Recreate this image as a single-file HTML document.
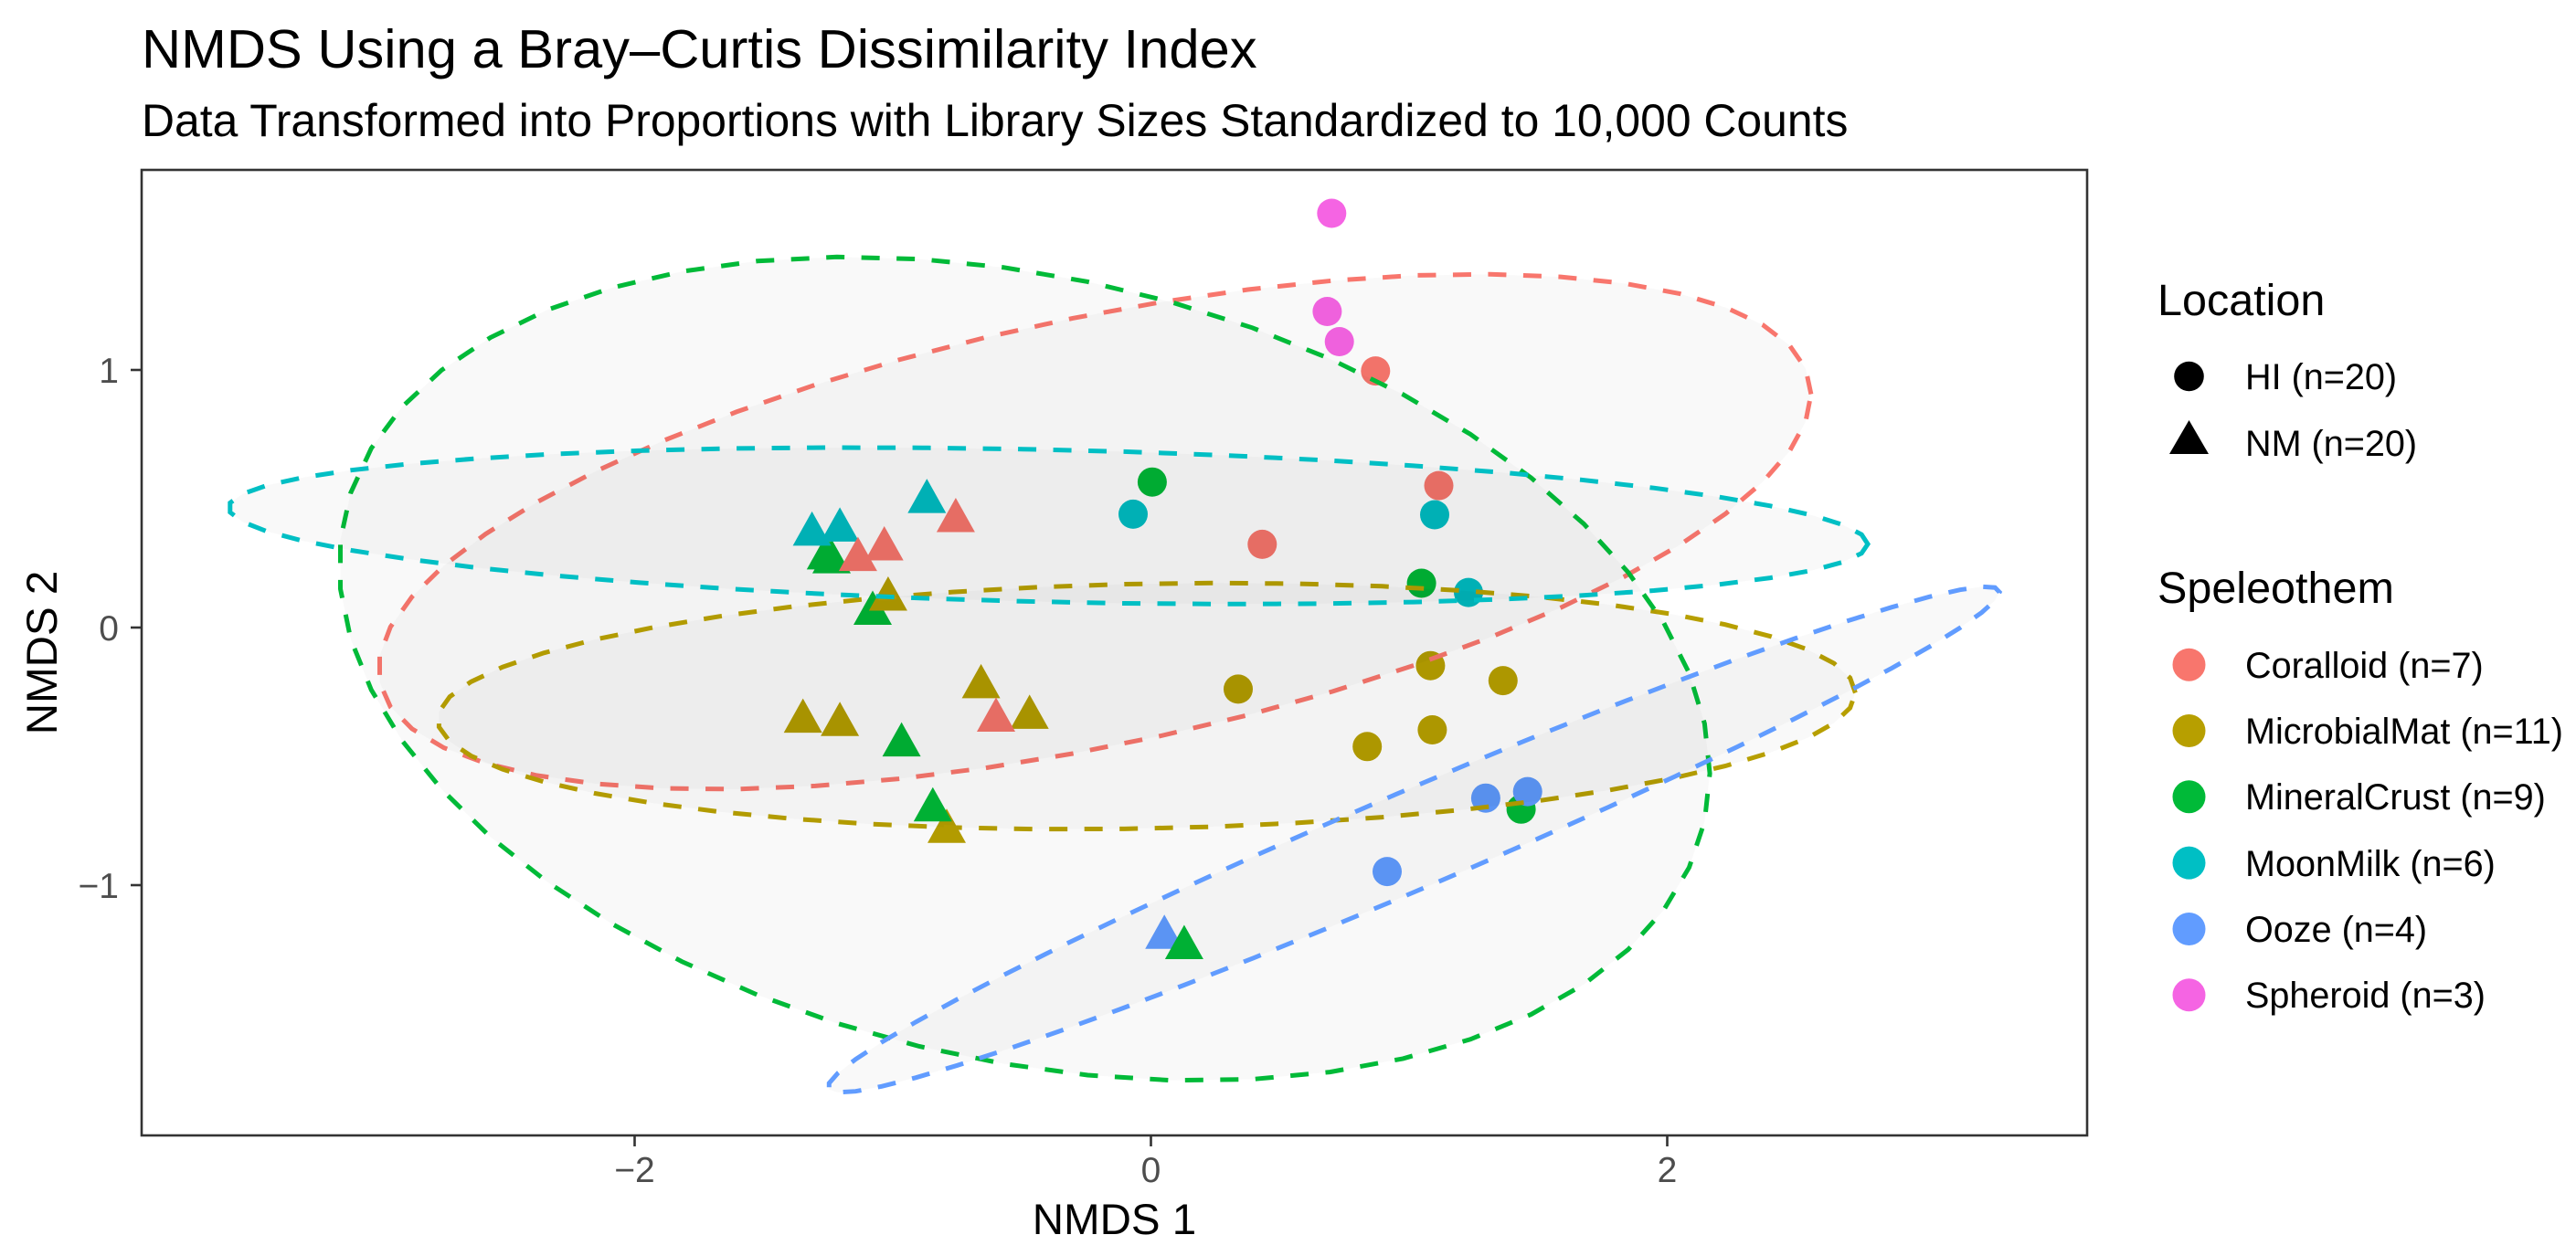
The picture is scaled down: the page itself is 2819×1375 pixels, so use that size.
<!DOCTYPE html>
<html lang="en">
<head>
<meta charset="utf-8">
<title>NMDS Using a Bray–Curtis Dissimilarity Index</title>
<style>
  html, body { margin: 0; padding: 0; background: #fff; }
  svg { display: block; }
  text { font-family: "Liberation Sans", Arial, sans-serif; }
  .tick-label { font-size: 39px; fill: #4d4d4d; }
  .legend-label { font-size: 39.6px; fill: #000; }
  .legend-title { font-size: 48.5px; fill: #000; }
  .axis-title { font-size: 47.5px; fill: #000; }
</style>
</head>
<body>
<svg id="chart" xmlns="http://www.w3.org/2000/svg" width="2819" height="1375" viewBox="0 0 2819 1375">
  <rect x="0" y="0" width="2819" height="1375" fill="#ffffff"/>
  <text x="155" y="74" font-size="59.7" fill="#000">NMDS Using a Bray–Curtis Dissimilarity Index</text>
  <text x="155" y="149" font-size="49.85" fill="#000">Data Transformed into Proportions with Library Sizes Standardized to 10,000 Counts</text>

  <g id="points"></g>
  <g id="ellipses"></g>
  <rect x="155" y="186" width="2129" height="1057" fill="none" stroke="#333333" stroke-width="2.6"/>
  <g id="axes"></g>

  <text class="axis-title" x="1219.5" y="1351" text-anchor="middle">NMDS 1</text>
  <text class="axis-title" transform="translate(62,714.5) rotate(-90)" text-anchor="middle">NMDS 2</text>

  <g>
    <text class="legend-title" x="2361" y="345">Location</text>
    <g>
      <circle cx="2395.5" cy="412" r="16.3" fill="#000"/>
      <text class="legend-label" x="2457" y="426">HI (n=20)</text>
    </g>
    <g>
      <polygon points="2395.5,460 2417,497 2374,497" fill="#000"/>
      <text class="legend-label" x="2457" y="499">NM (n=20)</text>
    </g>
  </g>

  <g>
    <text class="legend-title" x="2361" y="660">Speleothem</text>
    <g>
      <circle cx="2395.5" cy="727.7" r="18" fill="#F8766D"/>
      <text class="legend-label" x="2457" y="742">Coralloid (n=7)</text>
    </g>
    <g>
      <circle cx="2395.5" cy="800" r="18" fill="#B79F00"/>
      <text class="legend-label" x="2457" y="814">MicrobialMat (n=11)</text>
    </g>
    <g>
      <circle cx="2395.5" cy="872.3" r="18" fill="#00BA38"/>
      <text class="legend-label" x="2457" y="886">MineralCrust (n=9)</text>
    </g>
    <g>
      <circle cx="2395.5" cy="944.6" r="18" fill="#00BFC4"/>
      <text class="legend-label" x="2457" y="959">MoonMilk (n=6)</text>
    </g>
    <g>
      <circle cx="2395.5" cy="1017" r="18" fill="#619CFF"/>
      <text class="legend-label" x="2457" y="1031">Ooze (n=4)</text>
    </g>
    <g>
      <circle cx="2395.5" cy="1089.3" r="18" fill="#F564E3"/>
      <text class="legend-label" x="2457" y="1103">Spheroid (n=3)</text>
    </g>
  </g>
</svg>

<script>
// ---- data ----
const xTicks = [-2, 0, 2];
const yTicks = [-1, 0, 1];

const speleothemNames = ['Coralloid', 'MicrobialMat', 'MineralCrust', 'MoonMilk', 'Ooze', 'Spheroid'];

const pointLocation = [
  'HI','HI','HI','HI','HI','HI','HI','HI','HI','HI',
  'HI','HI','HI','HI','HI','HI','HI','HI','HI','HI',
  'NM','NM','NM','NM','NM','NM','NM','NM','NM','NM',
  'NM','NM','NM','NM','NM','NM','NM','NM','NM','NM'
];
const pointSpeleothem = [
  'MineralCrust','Ooze','Ooze','Ooze','Coralloid','Coralloid','Coralloid','MoonMilk','MoonMilk','MoonMilk',
  'MineralCrust','MineralCrust','MicrobialMat','MicrobialMat','MicrobialMat','MicrobialMat','MicrobialMat','Spheroid','Spheroid','Spheroid',
  'MicrobialMat','MicrobialMat','MicrobialMat','MicrobialMat','MicrobialMat','MineralCrust','MineralCrust','MineralCrust','MineralCrust','MineralCrust',
  'MicrobialMat','MoonMilk','MoonMilk','MoonMilk','Coralloid','Coralloid','Coralloid','Coralloid','Ooze','MineralCrust'
];
const nmds1 = [
  1.434, 1.297, 1.459, 0.915, 0.870, 1.115, 0.431, 1.099, -0.069, 1.230,
  0.005, 1.048, 0.338, 1.083, 1.364, 1.090, 0.838, 0.700, 0.683, 0.730,
  -0.791, -1.348, -1.205, -0.658, -0.470, -1.259, -1.237, -1.078, -0.966, -0.845,
  -1.018, -1.313, -1.205, -0.868, -0.756, -1.033, -1.135, -0.600, 0.052, 0.129
];
const nmds2 = [
  -0.705, -0.662, -0.637, -0.947, 0.996, 0.551, 0.323, 0.438, 0.440, 0.136,
  0.565, 0.172, -0.239, -0.148, -0.206, -0.397, -0.462, 1.608, 1.227, 1.110,
  -0.792, -0.364, -0.377, -0.230, -0.349, 0.270, 0.255, 0.055, -0.456, -0.708,
  0.110, 0.362, 0.378, 0.489, 0.415, 0.305, 0.264, -0.360, -1.203, -1.243
];

// ellipse parameters in NMDS units, one entry per speleothem with an ellipse
const ellipseGroups  = ['Coralloid', 'MicrobialMat', 'MineralCrust', 'MoonMilk', 'Ooze'];
const ellipseCenterX = [-0.218, -0.017, -0.490, -0.398, 1.018];
const ellipseCenterY = [0.372, -0.305, -0.160, 0.395, -0.823];
const ellipseSpreadX = [2.775, 2.746, 2.655, 3.175, 2.269];
const ellipseSpreadY = [1.000, 0.478, 1.599, 0.304, 0.982];
const ellipseCorr    = [0.534, 0.108, -0.254, -0.233, 0.978];

// ---- scales and styles ----
const NS = 'http://www.w3.org/2000/svg';
const palette = { Coralloid: '#F8766D', MicrobialMat: '#B79F00', MineralCrust: '#00BA38', MoonMilk: '#00BFC4', Ooze: '#619CFF', Spheroid: '#F564E3' };
const scaleX = v => 1259.5 + 282.5 * v;
const scaleY = v => 687 - 282 * v;
const SEGMENTS = 51;
const slug = s => s.toLowerCase();
const fmt = v => (v < 0 ? '\u2212' + Math.abs(v) : String(v));

// ---- points ----
const pointsLayer = document.getElementById('points');
nmds1.forEach((v, i) => {
  const px = scaleX(v);
  const py = scaleY(nmds2[i]);
  const color = palette[pointSpeleothem[i]];
  let el;
  if (pointLocation[i] === 'HI') {
    el = document.createElementNS(NS, 'circle');
    el.setAttribute('cx', px.toFixed(1));
    el.setAttribute('cy', py.toFixed(1));
    el.setAttribute('r', '16');
  } else {
    el = document.createElementNS(NS, 'polygon');
    el.setAttribute('points', [
      [px, py - 25], [px + 21, py + 12.5], [px - 21, py + 12.5]
    ].map(p => p[0].toFixed(1) + ',' + p[1].toFixed(1)).join(' '));
  }
  el.setAttribute('fill', color);
  
  
  pointsLayer.appendChild(el);
});

// ---- ellipses ----
const ellipsesLayer = document.getElementById('ellipses');
ellipseGroups.forEach((group, i) => {
  const rho = ellipseCorr[i];
  const root = Math.sqrt(1 - rho * rho);
  const verts = [];
  for (let k = 0; k < SEGMENTS; k++) {
    const t = k * 2 * Math.PI / SEGMENTS;
    const dx = ellipseCenterX[i] + ellipseSpreadX[i] * Math.cos(t);
    const dy = ellipseCenterY[i] + ellipseSpreadY[i] * (rho * Math.cos(t) + root * Math.sin(t));
    verts.push(scaleX(dx).toFixed(1) + ',' + scaleY(dy).toFixed(1));
  }
  const el = document.createElementNS(NS, 'polygon');
  el.setAttribute('points', verts.join(' '));
  el.setAttribute('fill', 'rgba(0,0,0,0.025)');
  el.setAttribute('stroke', palette[group]);
  el.setAttribute('stroke-width', '5');
  el.setAttribute('stroke-dasharray', '20 18.5');
  
  
  ellipsesLayer.appendChild(el);
});

// ---- axes ----
const axesLayer = document.getElementById('axes');
xTicks.forEach(v => {
  const px = scaleX(v);
  const tick = document.createElementNS(NS, 'line');
  tick.setAttribute('x1', px);
  tick.setAttribute('x2', px);
  tick.setAttribute('y1', 1243);
  tick.setAttribute('y2', 1255);
  tick.setAttribute('stroke', '#333333');
  tick.setAttribute('stroke-width', '2.6');
  
  
  axesLayer.appendChild(tick);
  const label = document.createElementNS(NS, 'text');
  label.setAttribute('x', px);
  label.setAttribute('y', 1294);
  label.setAttribute('text-anchor', 'middle');
  label.setAttribute('class', 'tick-label');
  
  
  label.textContent = fmt(v);
  axesLayer.appendChild(label);
});
yTicks.forEach(v => {
  const py = scaleY(v);
  const tick = document.createElementNS(NS, 'line');
  tick.setAttribute('x1', 143);
  tick.setAttribute('x2', 155);
  tick.setAttribute('y1', py);
  tick.setAttribute('y2', py);
  tick.setAttribute('stroke', '#333333');
  tick.setAttribute('stroke-width', '2.6');
  
  
  axesLayer.appendChild(tick);
  const label = document.createElementNS(NS, 'text');
  label.setAttribute('x', 130);
  label.setAttribute('y', py + 14);
  label.setAttribute('text-anchor', 'end');
  label.setAttribute('class', 'tick-label');
  
  
  label.textContent = fmt(v);
  axesLayer.appendChild(label);
});
</script>
</body>
</html>
